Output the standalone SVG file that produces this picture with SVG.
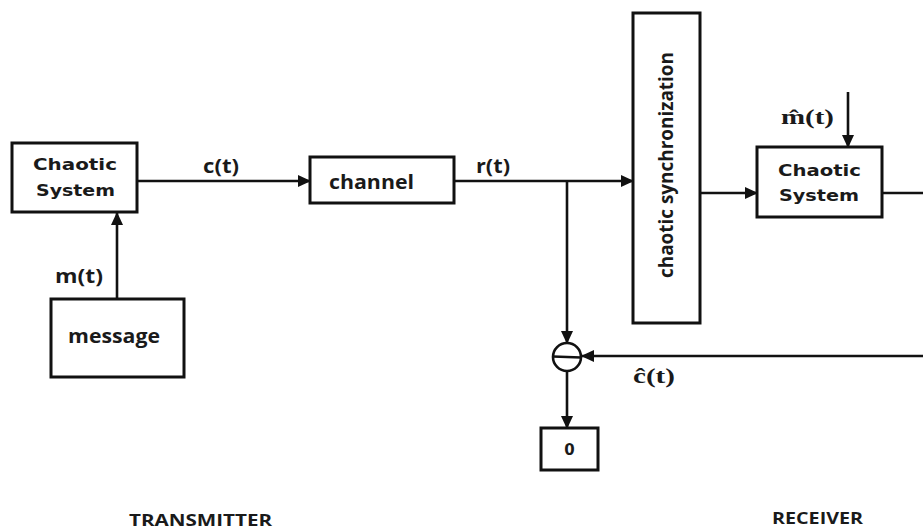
<svg xmlns="http://www.w3.org/2000/svg" width="923" height="532" viewBox="0 0 923 532">
<style>
.box{fill:#fff;stroke:#111;stroke-width:3}
.ln{fill:none;stroke:#111;stroke-width:2.6}
.t{font-family:"Open Sans","Liberation Sans",sans-serif;font-weight:bold;fill:#1a1a1a}
.cs{font-family:"DejaVu Sans","Liberation Sans",sans-serif;font-weight:bold;font-size:15px;fill:#1a1a1a}
.m{font-family:"Liberation Serif","DejaVu Serif",serif;font-weight:bold;font-size:20px;fill:#1a1a1a}
</style>
<defs>
<marker id="ah" markerUnits="userSpaceOnUse" markerWidth="13" markerHeight="12" refX="12" refY="6" orient="auto">
<path d="M0,0 L13,6 L0,12 z" fill="#111"/>
</marker>
</defs>
<rect width="923" height="532" fill="#fff"/>
<g id="connectors">
<path class="ln" d="M137,181 L310,181" marker-end="url(#ah)"/>
<path class="ln" d="M117,299 L117,213" marker-end="url(#ah)"/>
<path class="ln" d="M454,181 L633,181" marker-end="url(#ah)"/>
<path class="ln" d="M567,181 L567,343" marker-end="url(#ah)"/>
<path class="ln" d="M700,193 L757,193" marker-end="url(#ah)"/>
<path class="ln" d="M882,193 L923,193"/>
<path class="ln" d="M848,92 L848,147" marker-end="url(#ah)"/>
<path class="ln" d="M923,356 L582,356" marker-end="url(#ah)"/>
<path class="ln" d="M567,371 L567,428" marker-end="url(#ah)"/>
<text class="t" x="203" y="173" font-size="19" textLength="36" lengthAdjust="spacingAndGlyphs">c(t)</text>
<text class="t" x="55" y="283" font-size="19" textLength="48" lengthAdjust="spacingAndGlyphs">m(t)</text>
<text class="t" x="476" y="173" font-size="19" textLength="34" lengthAdjust="spacingAndGlyphs">r(t)</text>
<text class="m" x="781" y="124" textLength="53" lengthAdjust="spacingAndGlyphs">m̂(t)</text>
<text class="m" x="633" y="383" textLength="42" lengthAdjust="spacingAndGlyphs">ĉ(t)</text>
</g>
<g id="tx-chaotic">
<rect class="box" x="12" y="143" width="125" height="69"/>
<text class="cs" x="33" y="170" textLength="84" lengthAdjust="spacingAndGlyphs">Chaotic</text>
<text class="cs" x="36" y="196" textLength="79" lengthAdjust="spacingAndGlyphs">System</text>
</g>
<g id="message">
<rect class="box" x="51" y="299" width="133" height="78"/>
<text class="t" x="68" y="343" font-size="20" textLength="92" lengthAdjust="spacingAndGlyphs">message</text>
</g>
<g id="channel">
<rect class="box" x="310" y="157" width="144" height="46"/>
<text class="t" x="329" y="189" font-size="20" textLength="85" lengthAdjust="spacingAndGlyphs">channel</text>
</g>
<g id="sync">
<rect class="box" x="633" y="13" width="67" height="310"/>
<text class="t" x="0" y="0" font-size="20" textLength="226" lengthAdjust="spacingAndGlyphs" transform="translate(673,278) rotate(-90)">chaotic synchronization</text>
</g>
<g id="rx-chaotic">
<rect class="box" x="757" y="147" width="125" height="70"/>
<text class="cs" x="778" y="176" textLength="83" lengthAdjust="spacingAndGlyphs">Chaotic</text>
<text class="cs" x="779" y="201" textLength="80" lengthAdjust="spacingAndGlyphs">System</text>
</g>
<g id="subtractor">
<circle cx="567" cy="357" r="14" fill="#fff" stroke="#111" stroke-width="2.6"/>
<line x1="553" y1="356.5" x2="581" y2="357.5" stroke="#111" stroke-width="2.4"/>
</g>
<g id="output">
<rect class="box" x="541" y="428" width="57" height="42"/>
<text class="cs" x="569.5" y="455" text-anchor="middle" font-size="15">0</text>
</g>
<g id="labels">
<text class="t" x="129" y="526" font-size="16" textLength="143" lengthAdjust="spacingAndGlyphs">TRANSMITTER</text>
<text class="t" x="772" y="524" font-size="16" textLength="91" lengthAdjust="spacingAndGlyphs">RECEIVER</text>
</g>
</svg>
